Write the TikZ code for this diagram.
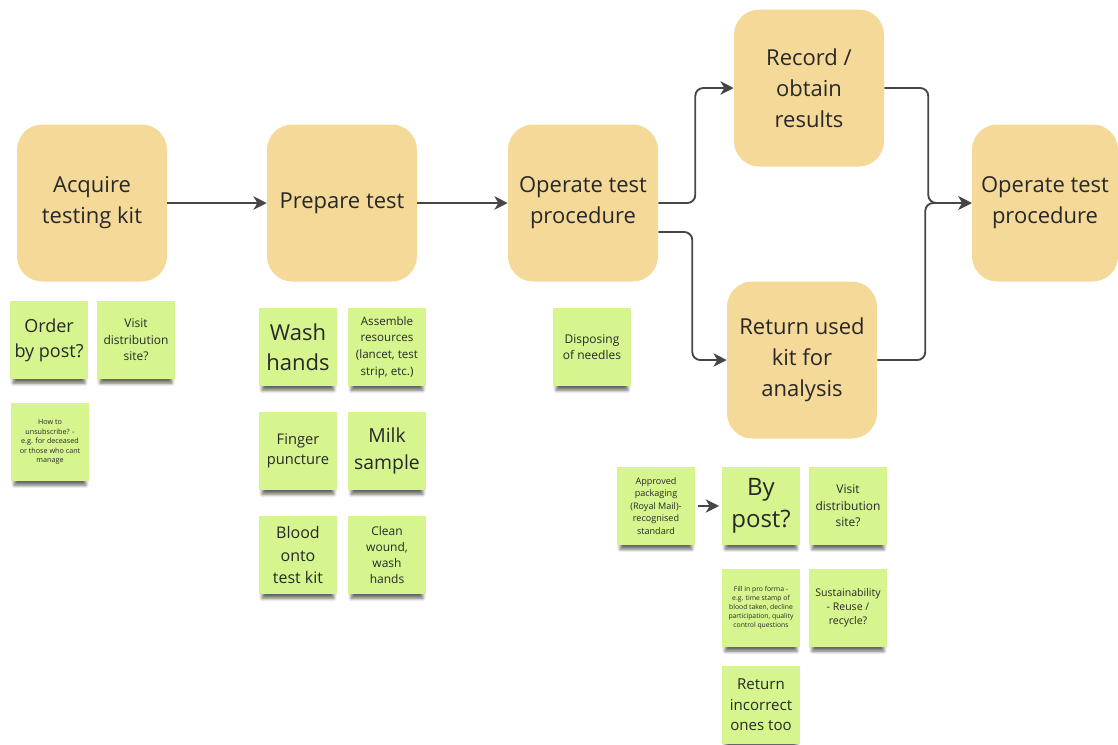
\documentclass[tikz,border=0pt]{standalone}
\usepackage{fontspec}
\setmainfont{Open Sans}
\usepackage{xcolor}
\usepackage{tikz}
\usetikzlibrary{arrows.meta,shadows.blur}
\definecolor{cStage}{RGB}{245,217,152}
\definecolor{cNote}{RGB}{214,245,143}
\definecolor{cText}{RGB}{40,40,40}
\definecolor{cLine}{RGB}{70,70,70}
\newcommand{\fs}[2]{\fontsize{#1}{#2}\selectfont}

\begin{document}
\begin{tikzpicture}[x=0.75pt,y=-0.75pt,
  stage/.style={fill=cStage,rounded corners=19pt,minimum width=112.5pt,minimum height=117.75pt,
    align=center,text=cText,inner sep=0pt,font=\fs{16.5}{23.25}},
  note/.style={fill=cNote,minimum size=58.5pt,align=center,text=cText,inner sep=0pt,
    blur shadow={shadow xshift=0pt,shadow yshift=-6pt,shadow scale=0.92,shadow opacity=60,shadow blur steps=8,shadow blur radius=2.5pt}},
  flow/.style={draw=cLine,line width=1.4pt,-{Stealth[length=10pt,width=10pt,inset=3pt]},rounded corners=6pt}]
\useasboundingbox (0,0) rectangle (1118,744);
% process steps
\node[stage] (acq) at (92,203) {Acquire\\testing kit};
\node[stage] (prep) at (342,203) {Prepare test};
\node[stage] (op) at (583,203) {Operate test\\procedure};
\node[stage] (rec) at (809,88) {Record /\\obtain\\results};
\node[stage] (ret) at (802,360) {Return used\\kit for\\analysis};
\node[stage,minimum width=109.5pt] (op2) at (1045,203) {Operate test\\procedure};
\draw[flow] (acq) -- (prep);
\draw[flow] (prep) -- (op);
\draw[flow] (op.east) -- ++(37,0) |- (rec.west);
\draw[flow] ([yshift=-21.75pt]op.east) -- ++(34,0) |- (ret.west);
\draw[flow] (rec.east) -- ++(44,0) |- (op2.west);
\draw[flow] (ret.east) -- ++(48,0) |- (op2.west);
% stickies
\node[note,font=\fs{13.5}{18.75}] (order) at (49,340) {Order\\by post?};
\node[note,font=\fs{9}{12.4}] (visit) at (136,340) {Visit\\distribution\\site?};
\node[note,font=\fs{5.4}{7.1}] (unsub) at (50,442) {How to\\unsubscribe? -\\e.g. for deceased\\or those who cant\\manage};
\node[note,font=\fs{16.5}{22.5}] (wash) at (298,347) {Wash\\hands};
\node[note,font=\fs{8.7}{12.5}] (assemble) at (387,347) {Assemble\\resources\\(lancet, test\\strip, etc.)};
\node[note,font=\fs{11}{15}] (finger) at (298,451) {Finger\\puncture};
\node[note,font=\fs{14.5}{20}] (milk) at (387,451) {Milk\\sample};
\node[note,font=\fs{12}{16.7}] (blood) at (298,555) {Blood\\onto\\test kit};
\node[note,font=\fs{9}{12.2}] (clean) at (387,555) {Clean\\wound,\\wash\\hands};
\node[note,font=\fs{9}{12}] (dispose) at (592,347) {Disposing\\of needles};
\node[note,font=\fs{6.8}{9.4}] (pack) at (656,506) {Approved\\packaging\\(Royal Mail)-\\recognised\\standard};
\node[note,font=\fs{18}{23.7}] (bypost) at (761,506) {By\\post?};
\node[note,font=\fs{9}{12.3}] (visit2) at (848,506) {Visit\\distribution\\site?};
\node[note,font=\fs{5.1}{6.8}] (proforma) at (761,608) {Fill in pro forma -\\e.g. time stamp of\\blood taken, decline\\participation, quality\\control questions};
\node[note,font=\fs{7.9}{10.4}] (sustain) at (848,608) {Sustainability\\- Reuse /\\recycle?};
\node[note,font=\fs{11.3}{15.4}] (incorrect) at (761,705) {Return\\incorrect\\ones too};
\draw[flow,line width=1.8pt,shorten <=2pt,shorten >=2pt] (pack) -- (bypost);
\end{tikzpicture}
\end{document}
